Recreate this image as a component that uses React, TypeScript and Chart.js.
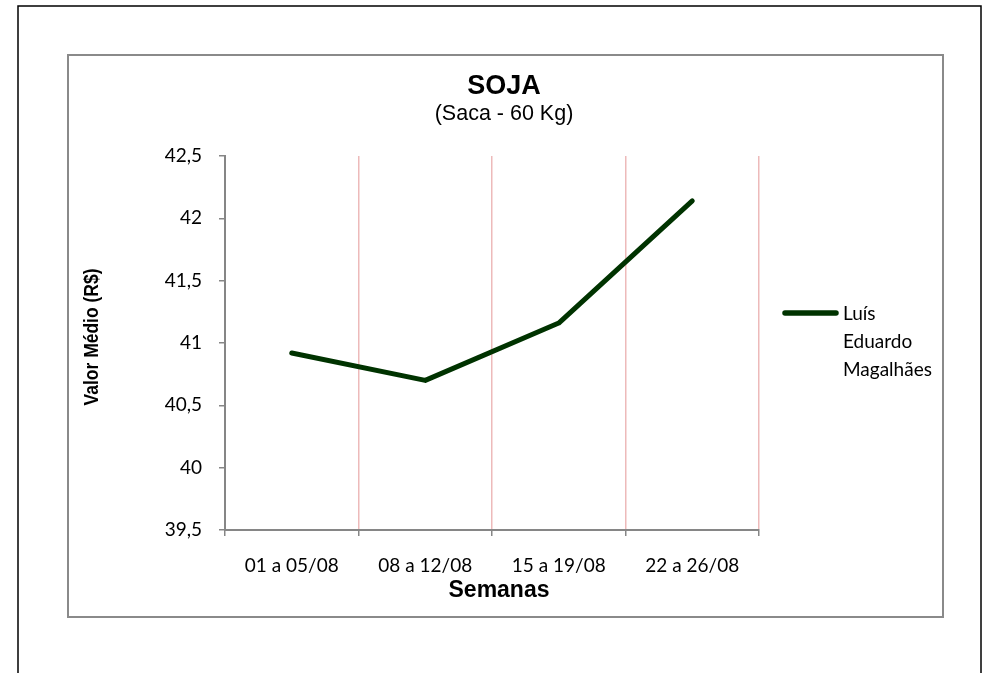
import React, { useEffect, useRef } from "react";
import { Chart, registerables } from "chart.js";

Chart.register(...registerables);

const categories = ["01 a 05/08", "08 a 12/08", "15 a 19/08", "22 a 26/08"];
const seriesName = "Luís Eduardo Magalhães";
const values = [40.92, 40.7, 41.16, 42.14];
const yTicks = [39.5, 40, 40.5, 41, 41.5, 42, 42.5];
const title = "SOJA";
const subtitle = "(Saca - 60 Kg)";
const xTitle = "Semanas";
const yTitle = "Valor Médio (R$)";

const LINE_COLOR = "#003300";
const AXIS_COLOR = "#868686";
const GRID_COLOR = "#EDBABA";
const ARIAL = '"Liberation Sans", Arial, sans-serif';
const CAL = 'Lato, "Open Sans", sans-serif';

const decor = {
  id: "decor",
  beforeDraw(chart: any) {
    const ctx = chart.ctx;
    ctx.save();
    ctx.fillStyle = "#ffffff";
    ctx.fillRect(0, 0, chart.width, chart.height);
    ctx.restore();
  },
  afterDraw(chart: any) {
    const ctx = chart.ctx;
    const a = chart.chartArea;
    ctx.save();
    // outer border
    ctx.strokeStyle = "#000000";
    ctx.lineWidth = 1.5;
    ctx.strokeRect(18, 6, 963, 720);
    // inner border
    ctx.strokeStyle = "#8a8a8a";
    ctx.lineWidth = 2;
    ctx.strokeRect(68, 55, 875, 562);

    // titles
    ctx.fillStyle = "#000000";
    ctx.textAlign = "center";
    ctx.textBaseline = "middle";
    ctx.font = `bold 27px ${ARIAL}`;
    ctx.fillText(title, 504, 87);
    ctx.font = `21.5px ${ARIAL}`;
    ctx.fillText(subtitle, 504, 114);

    // x title
    ctx.font = `bold 23px ${ARIAL}`;
    ctx.fillText(xTitle, (a.left + a.right) / 2 + 7, 591);

    // y title (condensed)
    ctx.save();
    ctx.translate(92, 337);
    ctx.rotate(-Math.PI / 2);
    ctx.font = `bold 20px ${ARIAL}`;
    const w = ctx.measureText(yTitle).width;
    ctx.scale(137 / w, 1);
    ctx.fillText(yTitle, 0, 0);
    ctx.restore();

    // legend
    const ds = chart.data.datasets[0];
    ctx.strokeStyle = ds.borderColor;
    ctx.lineWidth = 5.5;
    ctx.lineCap = "round";
    ctx.beginPath();
    ctx.moveTo(785, 313);
    ctx.lineTo(836, 313);
    ctx.stroke();
    ctx.textAlign = "left";
    ctx.font = `19px ${CAL}`;
    const words = String(ds.label).split(" ");
    words.forEach((wd: string, i: number) => {
      ctx.fillText(wd, 843, 314 + i * 28);
    });
    ctx.restore();
  },
};

export default function App() {
  const ref = useRef<HTMLCanvasElement | null>(null);
  useEffect(() => {
    if (!ref.current) return;
    const chart = new Chart(ref.current, {
      type: "line",
      data: {
        labels: categories,
        datasets: [
          {
            label: seriesName,
            data: values,
            borderColor: LINE_COLOR,
            backgroundColor: LINE_COLOR,
            borderWidth: 5,
            pointRadius: 0,
            tension: 0,
            borderCapStyle: "round",
            borderJoinStyle: "round",
          },
        ],
      },
      options: {
        responsive: false,
        animation: false,
        layout: { padding: { left: 0, top: 156, right: 225, bottom: 83 } },
        plugins: {
          legend: { display: false },
          title: { display: false },
          tooltip: { enabled: false },
        },
        scales: {
          x: {
            type: "category",
            offset: true,
            afterFit(scale: any) {
              scale.height = 60;
            },
            grid: {
              offset: true,
              display: true,
              drawOnChartArea: true,
              color: GRID_COLOR,
              lineWidth: 1.5,
              tickColor: AXIS_COLOR,
              tickLength: 6,
            },
            border: { display: true, color: AXIS_COLOR, width: 2 },
            ticks: {
              color: "#000000",
              font: { family: CAL, size: 19 },
              padding: 18,
              maxRotation: 0,
              autoSkip: false,
            },
          },
          y: {
            min: yTicks[0],
            max: yTicks[yTicks.length - 1],
            afterFit(scale: any) {
              scale.width = 225;
            },
            afterBuildTicks(scale: any) {
              scale.ticks = yTicks.map((v) => ({ value: v }));
            },
            grid: {
              display: true,
              drawOnChartArea: false,
              tickColor: AXIS_COLOR,
              tickLength: 6,
              lineWidth: 1.5,
            },
            border: { display: true, color: AXIS_COLOR, width: 2 },
            ticks: {
              color: "#000000",
              font: { family: CAL, size: 19 },
              padding: 17,
              callback: (v: any) => String(v).replace(".", ","),
            },
          },
        },
      },
      plugins: [decor],
    });
    return () => chart.destroy();
  }, []);
  return (
    <div style={{ position: "fixed", left: 0, top: 0, width: 984, height: 673, background: "#fff" }}>
      <canvas ref={ref} width={984} height={673} style={{ display: "block" }} />
    </div>
  );
}
